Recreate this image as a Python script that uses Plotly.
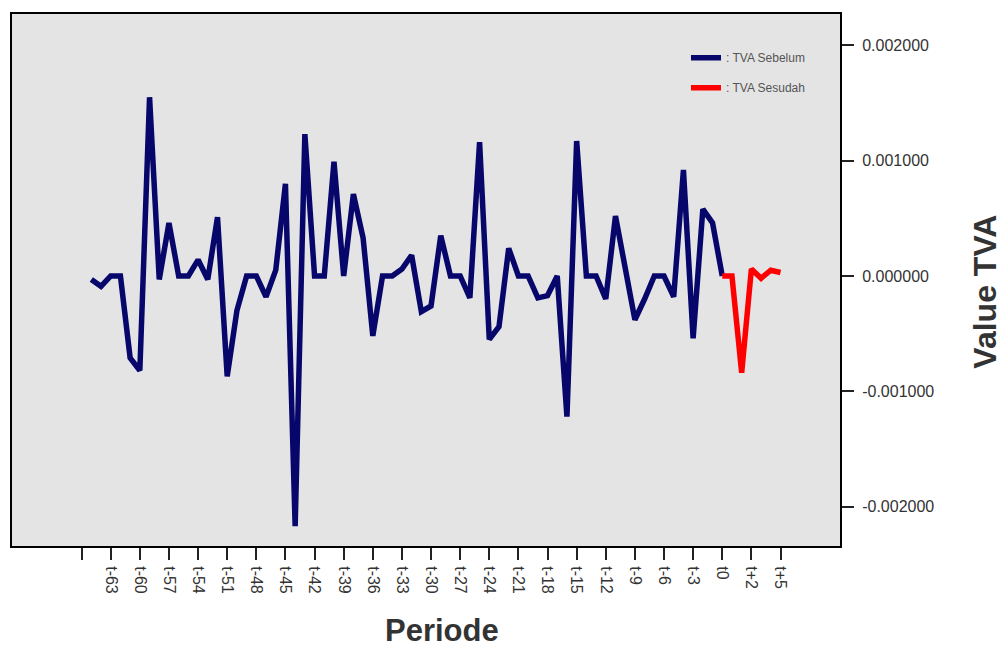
import plotly.graph_objects as go

# ---- data ----
periods_before = list(range(-65, 1))  # t-65 .. t0
tva_before = [
    -0.00003, -0.00009, 0.0, 0.0, -0.00071, -0.00082, 0.00155, -0.00003, 0.00046, 0.0,
    0.0, 0.00014, -0.00003, 0.00051, -0.00087, -0.00030, 0.0, 0.0, -0.00018, 0.00005,
    0.00080, -0.00217, 0.00123, 0.0, 0.0, 0.00099, 0.0, 0.00071, 0.00033, -0.00052,
    0.0, 0.0, 0.00006, 0.00018, -0.00031, -0.00026, 0.00035, 0.0, 0.0, -0.00019,
    0.00116, -0.00055, -0.00044, 0.00024, 0.0, 0.0, -0.00019, -0.00017, 0.0, -0.00122,
    0.00117, 0.0, 0.0, -0.00020, 0.00052, 0.00008, -0.00038, -0.00020, 0.0, 0.0,
    -0.00018, 0.00092, -0.00054, 0.00058, 0.00046, 0.0,
]
periods_after = list(range(0, 7))
tva_after = [0.0, 0.0, -0.00084, 0.00006, -0.00002, 0.00005, 0.00003]

x_tick_vals = list(range(-66, 7, 3))
x_tick_text = [""] + ["t%d" % v for v in range(-63, 0, 3)] + ["t0", "t+2", "t+5"]
y_tick_vals = [0.002, 0.001, 0.0, -0.001, -0.002]
y_tick_text = ["0.002000", "0.001000", "0.000000", "-0.001000", "-0.002000"]

FONT = "Liberation Sans, Arial, Helvetica, sans-serif"
TXT = "#333333"

fig = go.Figure()
fig.add_trace(go.Scatter(
    x=periods_before, y=tva_before, mode="lines", name=": TVA Sebelum",
    line=dict(color="#06066b", width=5.5), legendgroup="a",
))
fig.add_trace(go.Scatter(
    x=periods_after, y=tva_after, mode="lines", name=": TVA Sesudah",
    line=dict(color="#ff0000", width=5.5), legendgroup="b",
))

fig.update_layout(
    width=1006, height=646,
    margin=dict(l=10, r=166, t=14, b=100),
    paper_bgcolor="white",
    plot_bgcolor="#e4e4e4",
    font=dict(family=FONT, color=TXT),
    showlegend=True,
    legend=dict(
        x=0.814, y=0.945, xanchor="left", yanchor="top",
        bgcolor="rgba(0,0,0,0)", font=dict(size=12, color="#555555"),
        traceorder="grouped", tracegroupgap=11,
    ),
    xaxis=dict(
        range=[-73.17, 12.13], showgrid=False, zeroline=False,
        showline=True, linecolor="black", linewidth=2, mirror=True,
        ticks="outside", ticklen=12, tickwidth=2, tickcolor="#222",
        tickvals=x_tick_vals, ticktext=x_tick_text, tickangle=90,
        tickfont=dict(size=16, color=TXT, family=FONT), ticklabelstandoff=3,
    ),
    yaxis=dict(
        range=[-0.002342, 0.002272], side="right", showgrid=False, zeroline=False,
        showline=True, linecolor="black", linewidth=2, mirror=True,
        ticks="outside", ticklen=12, tickwidth=2, tickcolor="#222",
        tickvals=y_tick_vals, ticktext=y_tick_text,
        tickfont=dict(size=16, color=TXT, family=FONT), ticklabelstandoff=5,
    ),
    annotations=[
        dict(text="<b>Periode</b>", xref="paper", yref="paper", x=(441 - 10) / 830, y=-0.158,
             xanchor="center", yanchor="middle", showarrow=False, height=30, valign="middle",
             font=dict(size=31, color=TXT, family=FONT)),
        dict(text="<b>Value TVA</b>", xref="paper", yref="paper", x=(985 - 10) / 830, y=(546 - 292) / 532,
             xanchor="center", yanchor="middle", showarrow=False, textangle=-90,
             font=dict(size=32, color=TXT, family=FONT)),
    ],
)

fig.write_html(
    "out.html",
    config={"displayModeBar": False},
    post_script="document.body.style.margin='0';document.body.style.padding='0';document.body.style.overflow='hidden';",
)
